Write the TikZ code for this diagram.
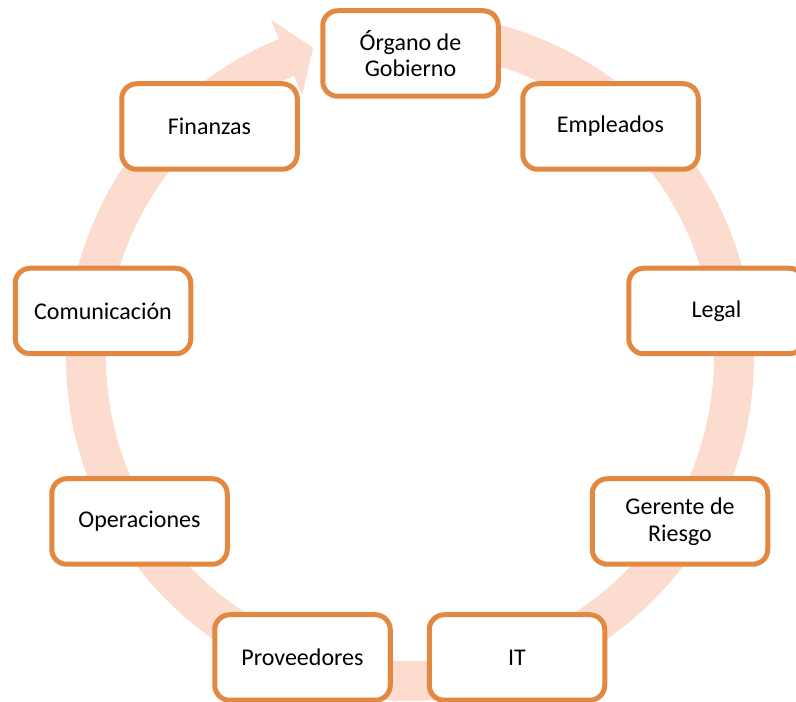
\documentclass[tikz,border=0pt]{standalone}
\usepackage{fontspec}
\setmainfont{Carlito}
\definecolor{ringpeach}{RGB}{251,220,207}
\definecolor{boxorange}{RGB}{226,136,64}
\begin{document}
\begin{tikzpicture}[x=1pt,y=1pt,
  stagebox/.style={draw=boxorange, line width=5pt, fill=white, rounded corners=15pt,
    minimum width=175.5pt, minimum height=85.5pt, align=center, inner sep=2pt,
    font=\fontsize{24pt}{26.5pt}\selectfont, text=black},
  ringband/.style={fill=ringpeach, draw=none}]
\useasboundingbox (0,0) rectangle (796,702);
% circular arrow band
\fill[ringband, shift={(410pt,345pt)}]
  (90:344pt) arc[start angle=90, end angle=-247.6, radius=344pt]
  -- (-247.6:365pt) -- (-252.6:324pt) -- (-247.6:283pt) -- (-247.6:304pt)
  arc[start angle=-247.6, end angle=90, radius=304pt] -- cycle;
% boxes
\node[stagebox] (organo) at (410.5,648.5) {Órgano de\\Gobierno};
\node[stagebox] (empleados) at (610.5,575.5) {Empleados};
\node[stagebox] (legal) at (716.5,391) {Legal};
\node[stagebox] (gerente) at (680,180.5) {Gerente de\\Riesgo};
\node[stagebox] (it) at (517,44.5) {IT};
\node[stagebox] (proveedores) at (302.5,44.5) {Proveedores};
\node[stagebox] (operaciones) at (139.5,180.5) {Operaciones};
\node[stagebox] (comunicacion) at (103,391) {Comunicación};
\node[stagebox] (finanzas) at (209.5,575.5) {Finanzas};
\end{tikzpicture}
\end{document}
